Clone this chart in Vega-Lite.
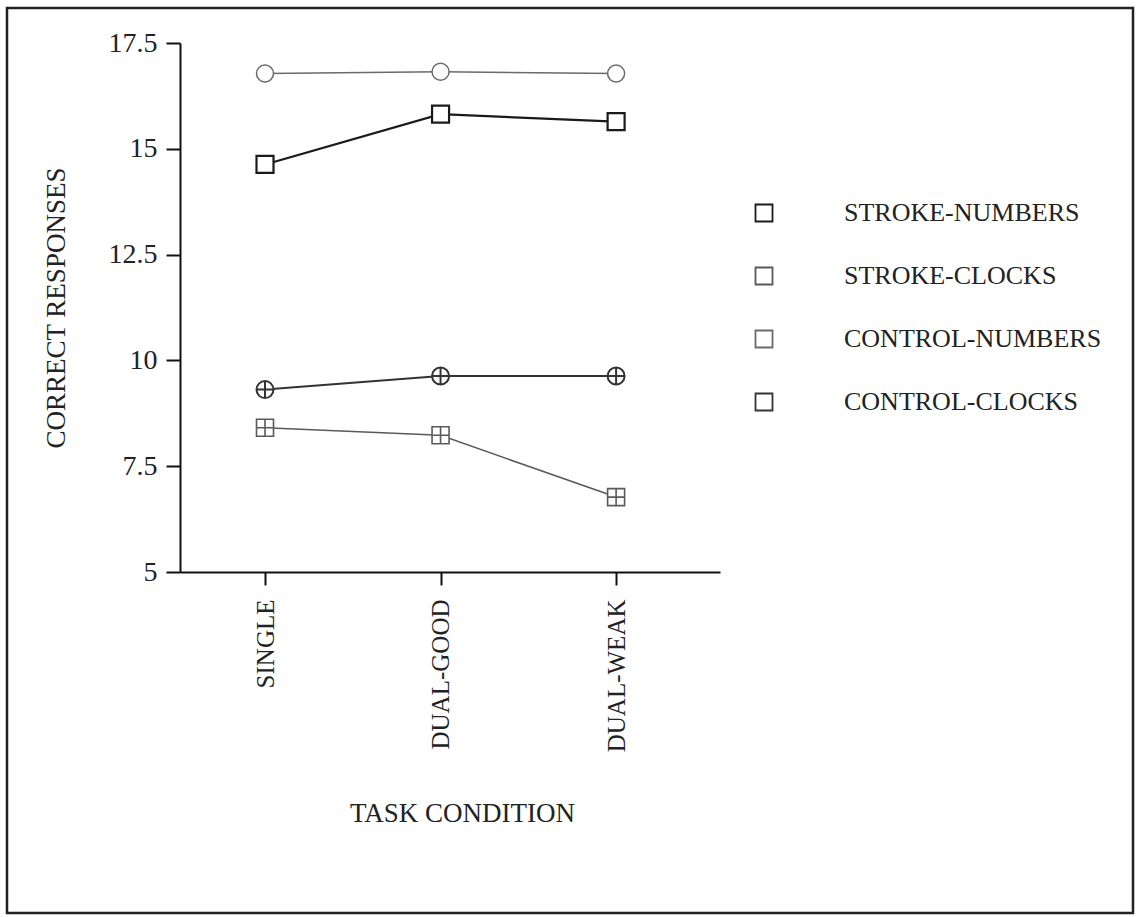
{
  "$schema": "https://vega.github.io/schema/vega-lite/v6.json",
  "autosize": "none",
  "padding": {"left": 7, "top": 8, "right": 5, "bottom": 4},
  "width": 1126,
  "height": 905,
  "background": "white",
  "config": {
    "view": {"stroke": "#222", "strokeWidth": 2.5},
    "font": "Liberation Serif"
  },
  "data": {
    "values": [
      {"condition": "SINGLE", "series": "STROKE-NUMBERS", "value": 14.63},
      {"condition": "DUAL-GOOD", "series": "STROKE-NUMBERS", "value": 15.82},
      {"condition": "DUAL-WEAK", "series": "STROKE-NUMBERS", "value": 15.64},
      {"condition": "SINGLE", "series": "STROKE-CLOCKS", "value": 8.41},
      {"condition": "DUAL-GOOD", "series": "STROKE-CLOCKS", "value": 8.23},
      {"condition": "DUAL-WEAK", "series": "STROKE-CLOCKS", "value": 6.77},
      {"condition": "SINGLE", "series": "CONTROL-NUMBERS", "value": 16.78},
      {"condition": "DUAL-GOOD", "series": "CONTROL-NUMBERS", "value": 16.82},
      {"condition": "DUAL-WEAK", "series": "CONTROL-NUMBERS", "value": 16.78},
      {"condition": "SINGLE", "series": "CONTROL-CLOCKS", "value": 9.31},
      {"condition": "DUAL-GOOD", "series": "CONTROL-CLOCKS", "value": 9.63},
      {"condition": "DUAL-WEAK", "series": "CONTROL-CLOCKS", "value": 9.63}
    ]
  },
  "encoding": {
    "x": {
      "field": "condition",
      "type": "nominal",
      "sort": ["SINGLE", "DUAL-GOOD", "DUAL-WEAK"],
      "scale": {"type": "point", "range": [173, 713], "padding": 0.538, "align": 0.45},
      "axis": {
        "offset": -341,
        "title": "TASK CONDITION",
        "titleFont": "Liberation Serif",
        "titleFontSize": 27,
        "titleFontWeight": "normal",
        "titleColor": "#222",
        "titlePadding": 49,
        "titleX": 455,
        "labelAngle": -90,
        "labelFont": "Liberation Serif",
        "labelFontSize": 25,
        "labelColor": "#222",
        "labelPadding": 14,
        "tickSize": 13,
        "tickWidth": 2,
        "tickColor": "#111",
        "domainColor": "#111",
        "domainWidth": 2,
        "grid": false
      }
    },
    "y": {
      "field": "value",
      "type": "quantitative",
      "scale": {"domain": [5, 17.5], "range": [564, 35], "nice": false, "zero": false},
      "axis": {
        "offset": -173,
        "values": [5, 7.5, 10, 12.5, 15, 17.5],
        "labelExpr": "datum.value == 17.5 ? '17.5' : datum.value == 12.5 ? '12.5' : datum.value == 7.5 ? '7.5' : datum.value == 15 ? '15' : datum.value == 10 ? '10' : '5'",
        "title": "CORRECT RESPONSES",
        "titleFont": "Liberation Serif",
        "titleFontSize": 27,
        "titleFontWeight": "normal",
        "titleColor": "#222",
        "titlePadding": 38,
        "labelFont": "Liberation Serif",
        "labelFontSize": 28,
        "labelColor": "#222",
        "labelPadding": 9,
        "tickSize": 14,
        "tickWidth": 2,
        "tickColor": "#111",
        "domainColor": "#111",
        "domainWidth": 2,
        "grid": false
      }
    },
    "strokeWidth": {
      "condition": [
        {"test": "datum.series === 'STROKE-CLOCKS'", "value": 1.6},
        {"test": "datum.series === 'CONTROL-NUMBERS'", "value": 1.5},
        {"test": "datum.series === 'CONTROL-CLOCKS'", "value": 2}
      ],
      "value": 2.2
    }
  },
  "layer": [
    {
      "mark": {"type": "line"},
      "encoding": {
        "detail": {"field": "series", "type": "nominal"},
        "stroke": {
          "condition": [
            {"test": "datum.series === 'STROKE-CLOCKS'", "value": "#5a5a5a"},
            {"test": "datum.series === 'CONTROL-NUMBERS'", "value": "#6a6a6a"},
            {"test": "datum.series === 'CONTROL-CLOCKS'", "value": "#333333"}
          ],
          "value": "#1a1a1a"
        }
      }
    },
    {
      "mark": {"type": "point", "filled": false, "fill": "white", "fillOpacity": 1, "size": 289, "opacity": 1},
      "encoding": {
        "shape": {
          "condition": [
            {"test": "datum.series === 'STROKE-CLOCKS'", "value": "M-1,-1H1V1H-1Z M0,-1V1 M-1,0H1"},
            {"test": "datum.series === 'CONTROL-NUMBERS'", "value": "circle"},
            {"test": "datum.series === 'CONTROL-CLOCKS'", "value": "M-1,0A1,1 0 1,1 1,0A1,1 0 1,1 -1,0Z M0,-1V1 M-1,0H1"}
          ],
          "value": "M-1,-1H1V1H-1Z"
        },
        "stroke": {
          "field": "series",
          "type": "nominal",
          "scale": {
            "domain": ["STROKE-NUMBERS", "STROKE-CLOCKS", "CONTROL-NUMBERS", "CONTROL-CLOCKS"],
            "range": ["#1a1a1a", "#5a5a5a", "#6a6a6a", "#333333"]
          },
          "legend": {
            "title": null,
            "orient": "none",
            "legendX": 744,
            "legendY": 192,
            "padding": 0,
            "symbolSize": 289,
            "symbolFillColor": "white",
            "symbolStrokeWidth": 1.8,
            "labelFont": "Liberation Serif",
            "labelFontSize": 26,
            "labelColor": "#222",
            "labelOffset": 67,
            "labelLimit": 500,
            "rowPadding": 37,
            "encode": {
              "symbols": {
                "shape": {"value": {"expr": "datum.value === 'STROKE-NUMBERS' ? 'M-6.4,0H-1 M1,0H6.4 M-1,-1H1V1H-1Z' : datum.value === 'STROKE-CLOCKS' ? 'M-6.4,0H-1 M1,0H6.4 M-1,-1H1V1H-1Z M0,-1V1 M-1,0H1' : datum.value === 'CONTROL-NUMBERS' ? 'M-6.4,0H-1 M1,0H6.4 M-1,0A1,1 0 1,1 1,0A1,1 0 1,1 -1,0Z' : 'M-6.4,0H-1 M1,0H6.4 M-1,0A1,1 0 1,1 1,0A1,1 0 1,1 -1,0Z M0,-1V1 M-1,0H1'"}},
                "strokeWidth": {"value": {"expr": "datum.value === 'STROKE-NUMBERS' ? 2.2 : datum.value === 'STROKE-CLOCKS' ? 1.6 : datum.value === 'CONTROL-NUMBERS' ? 1.5 : 2"}}
              }
            }
          }
        }
      }
    }
  ]
}
